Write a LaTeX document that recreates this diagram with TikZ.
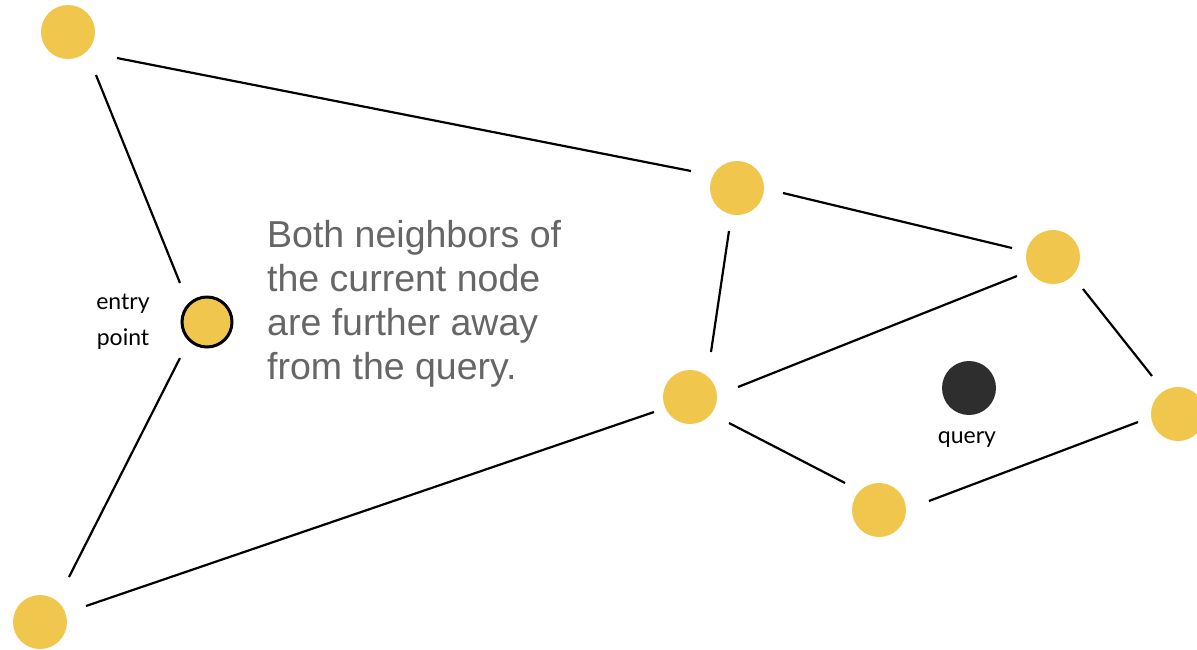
\documentclass[tikz,border=0pt]{standalone}
\usepackage{fontspec}
\usetikzlibrary{calc}
\setmainfont{Liberation Sans}
\newfontfamily\handfont{Lato}
\definecolor{nodeyellow}{HTML}{F0C64C}
\definecolor{querydark}{HTML}{2E2E2E}
\definecolor{notegray}{HTML}{666666}
\begin{document}
\begin{tikzpicture}[x=1pt,y=-1pt,
  vertex/.style={circle,fill=nodeyellow,minimum size=54pt,inner sep=0pt,outer sep=0pt},
  entry/.style={circle,fill=nodeyellow,draw=black,line width=3pt,minimum size=50pt,inner sep=0pt,outer sep=0pt},
  target/.style={circle,fill=querydark,minimum size=54pt,inner sep=0pt,outer sep=0pt},
  link/.style={line width=2.2pt,black},
  hand/.style={font=\handfont\fontsize{23}{36}\selectfont,align=center,text=black,inner sep=0pt},
  note/.style={font=\fontsize{37.5}{44}\selectfont,text=notegray,align=left,anchor=north west,inner sep=0pt}]
\useasboundingbox[fill=white] (0,0) rectangle (1197,649);

% graph vertices
\node[vertex] (a) at (68,32) {};
\node[entry]  (b) at (207,322) {};
\node[vertex] (c) at (40,622) {};
\node[vertex] (d) at (737,188) {};
\node[vertex] (e) at (1053,257) {};
\node[vertex] (f) at (690,397) {};
\node[vertex] (g) at (879,510) {};
\node[vertex] (h) at (1178,414) {};
\node[target] (q) at (969,388) {};

% edges, each leaving a gap around its end vertices
\draw[link] ($(a)+(49,26)$)   -- ($(d)+(-46,-17)$);
\draw[link] ($(a)+(28,43)$)   -- ($(b)+(-27,-39)$);
\draw[link] ($(b)+(-27,36)$)  -- ($(c)+(29,-45)$);
\draw[link] ($(c)+(46,-16)$)  -- ($(f)+(-36,15)$);
\draw[link] ($(d)+(-8,43)$)   -- ($(f)+(21,-45)$);
\draw[link] ($(d)+(46,5)$)    -- ($(e)+(-41,-9)$);
\draw[link] ($(f)+(48,-10)$)  -- ($(e)+(-36,19)$);
\draw[link] ($(e)+(30,32)$)   -- ($(h)+(-26,-38)$);
\draw[link] ($(f)+(39,26)$)   -- ($(g)+(-34,-27)$);
\draw[link] ($(g)+(50,-9)$)   -- ($(h)+(-40,8)$);

% labels
\node[hand] (entrylabel) at (123,322) {entry\\point};
\node[hand,anchor=base] (querylabel) at (967,443) {query};
\node[note] (note) at (267,220) {Both neighbors of\\the current node\\are further away\\from the query.};
\end{tikzpicture}
\end{document}
